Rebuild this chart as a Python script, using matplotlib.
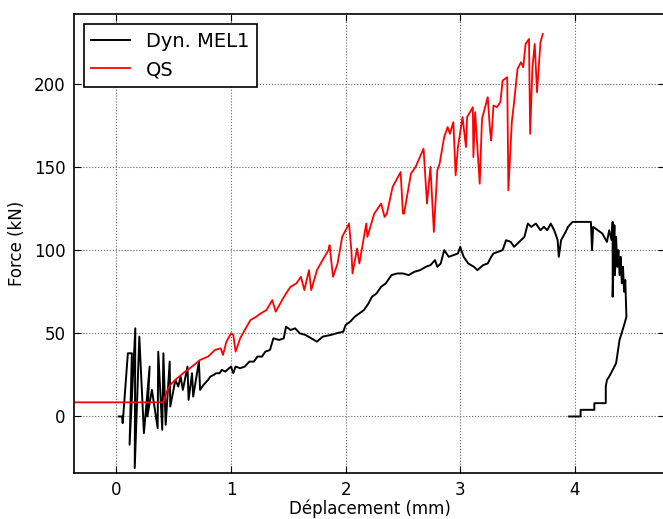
import matplotlib
matplotlib.use("Agg")
import matplotlib.pyplot as plt

# Dyn. MEL1 (displacement mm, force kN)
dyn_x = [0.02, 0.05, 0.055, 0.10, 0.135, 0.115, 0.165, 0.16, 0.20, 0.24, 0.29, 0.27, 0.31, 0.36,
         0.365, 0.40, 0.41, 0.43, 0.465, 0.47, 0.515, 0.54, 0.56, 0.58, 0.62, 0.63, 0.66, 0.67,
         0.72, 0.73, 0.76, 0.80, 0.82, 0.85, 0.87, 0.90, 0.92, 0.95, 1.00, 1.02, 1.04, 1.08, 1.12,
         1.16, 1.20, 1.23, 1.27, 1.30, 1.34, 1.37, 1.42, 1.46, 1.48, 1.52, 1.56, 1.60, 1.65, 1.70,
         1.75, 1.80, 1.87, 1.92, 1.98, 2.00, 2.04, 2.08, 2.12, 2.16, 2.20, 2.23, 2.27, 2.31, 2.35,
         2.40, 2.45, 2.50, 2.55, 2.60, 2.65, 2.70, 2.74, 2.78, 2.80, 2.83, 2.86, 2.90, 2.94, 2.98,
         3.00, 3.03, 3.07, 3.12, 3.15, 3.20, 3.24, 3.27, 3.29, 3.33, 3.37, 3.40, 3.44, 3.47, 3.50,
         3.53, 3.56, 3.59, 3.62, 3.66, 3.70, 3.73, 3.76, 3.79, 3.82, 3.85, 3.86, 3.88, 3.92, 3.94,
         3.98, 4.14, 4.15, 4.16, 4.20, 4.24, 4.28, 4.30, 4.32, 4.33, 4.33, 4.345, 4.35, 4.36, 4.37,
         4.38, 4.39, 4.40, 4.41, 4.42, 4.43, 4.44, 4.45, 4.43, 4.39, 4.36, 4.30, 4.28, 4.27, 4.27,
         4.17, 4.17, 4.05, 4.05, 3.95]
dyn_y = [0, 0, -4, 38, 38, -17, 53, -31, 48, -10, 30, 0, 16, -7,
         39, -8, 38, -5, 33, 6, 22, 18, 24, 16, 30, 10, 26, 12,
         33, 16, 19, 22, 24, 25, 26, 26, 28, 27, 30, 26, 30, 29, 30,
         33, 33, 36, 36, 39, 40, 47, 46, 47, 54, 52, 53, 50, 49, 47,
         45, 48, 49, 50, 51, 55, 57, 60, 62, 64, 68, 72, 74, 78, 80,
         85, 86, 86, 85, 87, 88, 90, 91, 94, 90, 92, 100, 96, 97, 98,
         102, 96, 92, 90, 88, 91, 92, 96, 98, 99, 100, 106, 105, 102, 104,
         106, 108, 116, 114, 116, 112, 114, 112, 116, 112, 106, 96, 106, 111, 114,
         117, 117, 100, 114, 112, 110, 105, 112, 106, 117, 72, 115, 85, 108, 90,
         100, 85, 96, 80, 90, 75, 82, 60, 55, 46, 32, 24, 22, 18, 8,
         8, 4, 4, 0, 0]

# QS
qs_x = [-0.37, 0.41, 0.44, 0.47, 0.53, 0.60, 0.66, 0.73, 0.80, 0.86, 0.91, 0.93, 0.96, 1.00,
        1.02, 1.04, 1.08, 1.12, 1.17, 1.22, 1.26, 1.31, 1.36, 1.39, 1.43, 1.48, 1.52, 1.57,
        1.61, 1.64, 1.68, 1.70, 1.75, 1.79, 1.85, 1.86, 1.89, 1.93, 1.97, 2.03, 2.05, 2.06,
        2.10, 2.12, 2.18, 2.19, 2.25, 2.31, 2.34, 2.36, 2.41, 2.48, 2.50, 2.51, 2.57, 2.61,
        2.68, 2.71, 2.74, 2.77, 2.80, 2.82, 2.86, 2.89, 2.91, 2.94, 2.96, 2.98, 3.02, 3.05,
        3.06, 3.11, 3.115, 3.13, 3.17, 3.19, 3.24, 3.26, 3.27, 3.29, 3.32, 3.35, 3.37, 3.41,
        3.42, 3.45, 3.47, 3.50, 3.53, 3.55, 3.57, 3.60, 3.61, 3.63, 3.65, 3.67, 3.70, 3.72]
qs_y = [8.5, 8.5, 15, 19, 23, 27, 30, 34, 36, 40, 41, 37, 45, 50,
        49, 39, 47, 52, 58, 60, 62, 64, 70, 63, 68, 74, 78, 80,
        84, 76, 88, 76, 88, 93, 100, 103, 84, 92, 108, 116, 100, 86,
        101, 92, 116, 108, 122, 128, 120, 122, 138, 147, 122, 122, 146, 150,
        161, 128, 150, 111, 148, 152, 168, 174, 170, 177, 145, 162, 180, 162,
        180, 186, 156, 183, 140, 179, 192, 172, 166, 187, 186, 189, 202, 204,
        136, 177, 189, 209, 213, 210, 224, 227, 170, 210, 224, 195, 225, 230]

x_ticks = [0, 1, 2, 3, 4]
y_ticks = [0, 50, 100, 150, 200]

fig = plt.figure(figsize=(6.63, 5.19), dpi=100)
ax = fig.add_axes([0.1116, 0.0886, 0.892, 0.8844])

ax.plot(dyn_x, dyn_y, color='black', lw=1.4, label='Dyn. MEL1')
ax.plot(qs_x, qs_y, color='red', lw=1.3, label='QS')

ax.set_xlim(-0.37, 4.79)
ax.set_ylim(-34, 242)
ax.set_xticks(x_ticks)
ax.set_yticks(y_ticks)
ax.tick_params(direction='in', top=True, right=True, length=5, labelsize=12, pad=6)
ax.grid(True, linestyle=':', color='#666666', linewidth=0.8)
for s in ax.spines.values():
    s.set_linewidth(1.2)

ax.set_xlabel('Déplacement (mm)', fontsize=12, labelpad=0)
ax.set_ylabel('Force (kN)', fontsize=12, labelpad=6)

leg = ax.legend(loc='upper left', fontsize=14, fancybox=False, framealpha=1,
                edgecolor='black', handlelength=2.0, borderaxespad=0.5)
leg.get_frame().set_linewidth(1.2)

fig.savefig('out.png', dpi=100)
